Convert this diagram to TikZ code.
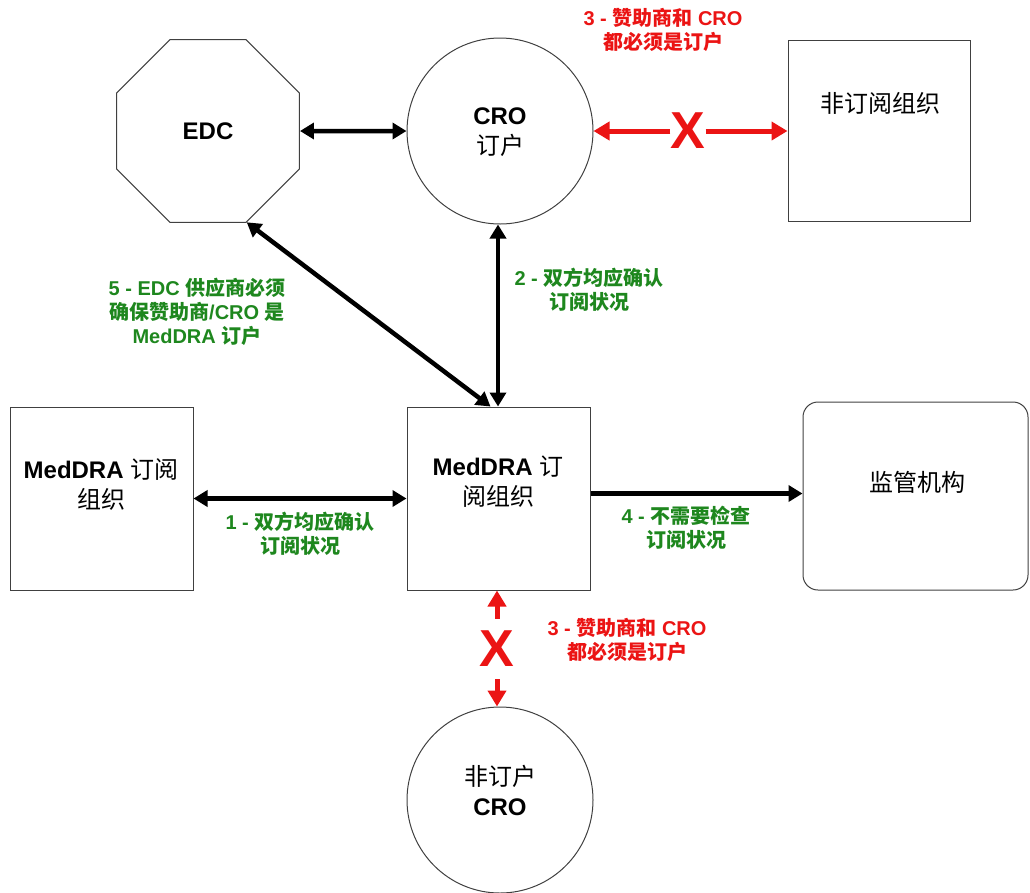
\documentclass[tikz,border=0pt]{standalone}
\usepackage{fontspec}
\setmainfont{Liberation Sans}
\newfontfamily\cjk{Noto Sans CJK SC}
\usetikzlibrary{arrows.meta,shapes.geometric}
\definecolor{okgreen}{RGB}{30,135,30}
\definecolor{nogored}{RGB}{235,20,20}
\newcommand{\zh}[1]{{\cjk #1}}
\newcommand{\zhr}[1]{{\cjk\mdseries #1}}

\begin{document}
\begin{tikzpicture}[x=1pt, y=-1pt,
  box/.style={draw=black!75, line width=1pt, minimum width=183pt, minimum height=183pt, inner sep=0pt},
  ring/.style={draw=black!75, line width=1pt, circle, minimum size=186pt, inner sep=0pt},
  txt/.style={align=center, font=\fontsize{24}{30}\selectfont\bfseries},
  note/.style={align=center, font=\fontsize{20}{24}\selectfont\bfseries},
  both/.style={line width=4.5pt, {Triangle[length=14pt,width=16pt]}-{Triangle[length=14pt,width=16pt]}},
  one/.style={line width=4.5pt, -{Triangle[length=14pt,width=16pt]}},
  nogo/.style={draw=nogored, line width=5pt, -{Triangle[length=16pt,width=18pt]}},
  cross/.style={text=nogored, inner sep=0pt, font=\fontsize{52}{52}\selectfont\bfseries}
]
\useasboundingbox (0,0) rectangle (1030,892);
% shapes
\node[draw=black!75, line width=1pt, regular polygon, regular polygon sides=8,
  minimum size=198pt, inner sep=0pt, txt] (EDC) at (208,131) {EDC};
\node[ring] (CRO) at (500,131) {};
\node[box, minimum width=182pt, minimum height=181pt] (NS) at (879,131) {};
\node[box] (MS) at (101.5,498.5) {};
\node[box] (MC) at (498.5,498.5) {};
\node[box, minimum width=225pt, minimum height=188pt, rounded corners=15pt] (RA) at (915.5,496) {};
\node[ring] (NC) at (500,800) {};
% texts in shapes
\node[txt] (CROtext) at (500,132) {CRO\\\zhr{订户}};
\node[txt] (NStext) at (880,103) {\zhr{非订阅组织}};
\node[txt] (MStext) at (101,485) {MedDRA \zhr{订阅}\\\zhr{组织}};
\node[txt] (MCtext) at (498,482) {MedDRA \zhr{订}\\\zhr{阅组织}};
\node[txt] (RAtext) at (917,482) {\zhr{监管机构}};
\node[txt] (NCtext) at (500,790) {\zhr{非订户}\\CRO};
% labels
\node[note, text=nogored] (topnote) at (663,30) {3 - \zh{赞助商和} CRO\\\zh{都必须是订户}};
\node[note, text=okgreen] (note2) at (589,290) {2 - \zh{双方均应确认}\\\zh{订阅状况}};
\node[note, text=okgreen] (note5) at (197,312) {5 - EDC \zh{供应商必须}\\\zh{确保赞助商}/CRO \zh{是}\\MedDRA \zh{订户}};
\node[note, text=okgreen] (note1) at (300,534) {1 - \zh{双方均应确认}\\\zh{订阅状况}};
\node[note, text=okgreen] (note4) at (686,528) {4 - \zh{不需要检查}\\\zh{订阅状况}};
\node[note, text=nogored] (lownote) at (627,640) {3 - \zh{赞助商和} CRO\\\zh{都必须是订户}};
% crosses
\node[cross] (Xtop) at (688,131) {X};
\node[cross] (Xlow) at (497,649) {X};
% connectors
\draw[both] (EDC.east) -- (CRO.west);
\draw[both] (CRO.south -| MCtext.center) -- (MC.north -| MCtext.center);
\draw[both] (EDC.-67.5) -- ([xshift=-8pt]MC.north);
\draw[both] (MS.east) -- (MC.west);
\draw[one] ([yshift=5pt]MC.east) -- ([yshift=5pt]MC.east -| RA.west);
\draw[nogo] (Xtop.west) -- (CRO.east);
\draw[nogo] (Xtop.east) -- (NS.west);
\draw[nogo, shorten <=12pt] (Xlow.north) -- (MC.south -| Xlow);
\draw[nogo, shorten <=12pt] (Xlow.south) -- (NC.north -| Xlow);
\end{tikzpicture}
\end{document}
